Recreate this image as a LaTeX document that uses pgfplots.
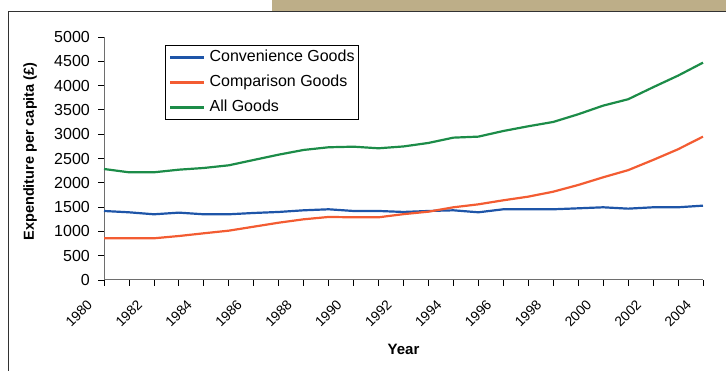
\documentclass[border=0pt]{standalone}
\usepackage{fontspec}
\setmainfont{Liberation Sans}
\usepackage{pgfplots}
\pgfplotsset{compat=1.18}
\definecolor{cblue}{RGB}{30,85,168}
\definecolor{corange}{RGB}{243,92,50}
\definecolor{cgreen}{RGB}{28,140,72}
\definecolor{tanc}{RGB}{189,174,136}
\definecolor{framec}{RGB}{50,50,50}
\definecolor{axc}{RGB}{110,110,110}
\pgfplotstableread{
year conv comp all
1980 1420 858 2284
1981 1393 858 2216
1982 1352 858 2216
1983 1386 905 2270
1984 1352 961 2305
1985 1352 1015 2360
1986 1379 1097 2470
1987 1400 1179 2579
1988 1434 1249 2676
1989 1455 1297 2731
1990 1420 1290 2743
1991 1420 1290 2710
1992 1400 1355 2748
1993 1420 1406 2820
1994 1434 1496 2929
1995 1393 1557 2950
1996 1455 1640 3066
1997 1455 1715 3163
1998 1455 1817 3252
1999 1475 1955 3410
2000 1496 2113 3588
2001 1468 2260 3719
2002 1496 2470 3966
2003 1496 2690 4205
2004 1530 2950 4472
}\datatable
\begin{document}
\begin{tikzpicture}[x=1pt,y=1pt]
\path[use as bounding box] (0,0) rectangle (726,371);
\begin{scope}
\clip (0,0) rectangle (726,371);
\fill[tanc] (272,359.5) rectangle (726,371);
\draw[line width=1.5pt, framec] (8.5,-5) -- (8.5,359.5) -- (730,359.5);
\end{scope}
\begin{axis}[
  at={(104pt,91pt)}, anchor=south west,
  scale only axis, width=599pt, height=243pt,
  xmin=1980, xmax=2004, ymin=0, ymax=5000,
  axis lines*=left,
  axis line style={axc, line width=1pt},
  xtick={1980,1982,...,2004},
  minor xtick={1981,1983,...,2003},
  ytick={0,500,...,5000},
  tick style={black, line width=0.8pt},
  tick align=outside,
  major tick length=6pt, minor tick length=6pt,
  /pgf/number format/1000 sep={},
  /pgf/number format/assume math mode=true,
  yticklabel style={font=\fontsize{16}{19}\selectfont, anchor=east, inner sep=0pt, xshift=-8pt},
  xticklabel style={font=\fontsize{13.8}{16}\selectfont, rotate=45, anchor=east, inner sep=0pt, xshift=-21.6pt, yshift=-1.6pt},
  xlabel={\bfseries Year},
  xlabel style={font=\fontsize{15}{18}\selectfont, at={(axis description cs:0.5,0)}, anchor=center, yshift=-69pt},
  ylabel={\bfseries Expenditure per capita (£)},
  ylabel style={font=\fontsize{14.5}{17}\selectfont, at={(axis description cs:-0.1235,0.529)}, anchor=center},
  legend style={at={(0.1018,0.967)}, anchor=north west, draw=black, line width=0.8pt,
    font=\fontsize{16}{19}\selectfont, inner xsep=4pt, inner ysep=4pt, row sep=9pt,
    nodes={inner sep=0pt, text height=12pt, text depth=4pt}},
  legend cell align=left,
  /tikz/every odd column/.append style={column sep=4pt},
  legend image code/.code={\draw[#1] (0pt,0pt) -- (34pt,0pt);},
  clip=false,
]
\addplot[cblue, line width=2.2pt] table[x=year, y=conv] {\datatable};
\addlegendentry{Convenience Goods}
\addplot[corange, line width=2.2pt] table[x=year, y=comp] {\datatable};
\addlegendentry{Comparison Goods}
\addplot[cgreen, line width=2.2pt] table[x=year, y=all] {\datatable};
\addlegendentry{All Goods}
\end{axis}
\end{tikzpicture}
\end{document}
